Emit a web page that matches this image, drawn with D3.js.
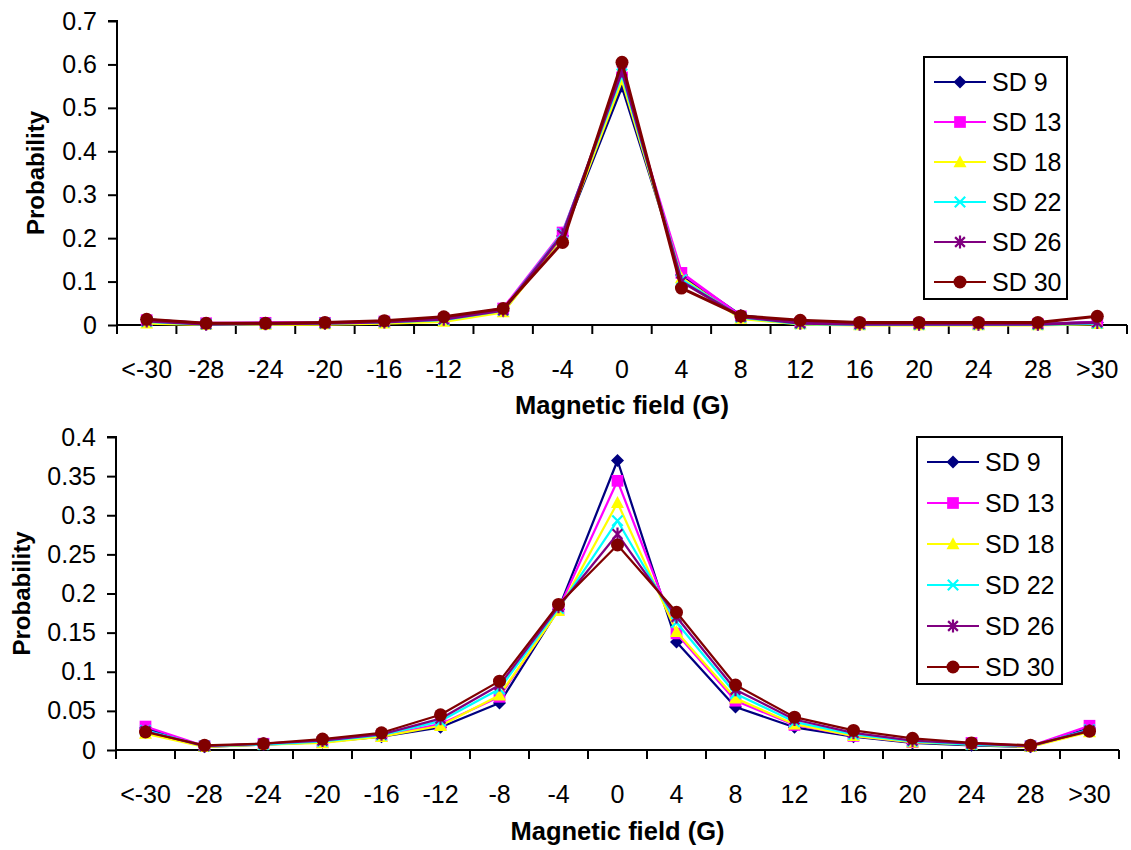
<!DOCTYPE html>
<html>
<head>
<meta charset="utf-8">
<script src="https://cdn.jsdelivr.net/npm/d3@7"></script>
<style>
  html, body { margin: 0; padding: 0; background: #fff; }
  svg { display: block; font-family: "Liberation Sans", Arial, sans-serif; }
</style>
</head>
<body>
<svg id="chart" width="1131" height="850"></svg>
<script>
// Field bins (G)
const categories = ["<-30","-28","-24","-20","-16","-12","-8","-4","0","4","8","12","16","20","24","28",">30"];
const seriesNames = ["SD 9","SD 13","SD 18","SD 22","SD 26","SD 30"];

// Upper panel: probability per bin
const topSD9  = [0.012,0.003,0.004,0.004,0.007,0.012,0.032,0.205,0.550,0.115,0.022,0.006,0.003,0.002,0.002,0.002,0.006];
const topSD13 = [0.011,0.004,0.005,0.005,0.008,0.014,0.038,0.213,0.570,0.120,0.020,0.005,0.002,0.002,0.002,0.002,0.006];
const topSD18 = [0.004,0.001,0.001,0.002,0.004,0.008,0.030,0.205,0.565,0.108,0.015,0.002,0.000,0.000,0.000,0.000,0.003];
const topSD22 = [0.008,0.002,0.003,0.004,0.007,0.012,0.034,0.210,0.578,0.104,0.018,0.003,0.001,0.001,0.001,0.001,0.004];
const topSD26 = [0.009,0.002,0.003,0.004,0.007,0.013,0.034,0.208,0.585,0.100,0.019,0.004,0.002,0.002,0.002,0.002,0.006];
const topSD30 = [0.013,0.004,0.004,0.006,0.010,0.019,0.038,0.190,0.605,0.085,0.021,0.011,0.006,0.006,0.006,0.006,0.020];

// Lower panel: probability per bin
const botSD9  = [0.028,0.004,0.007,0.010,0.017,0.029,0.060,0.180,0.370,0.138,0.055,0.029,0.017,0.009,0.006,0.004,0.028];
const botSD13 = [0.030,0.005,0.008,0.010,0.018,0.033,0.068,0.180,0.344,0.149,0.063,0.032,0.018,0.010,0.009,0.005,0.031];
const botSD18 = [0.021,0.004,0.007,0.009,0.017,0.031,0.070,0.178,0.316,0.151,0.066,0.033,0.018,0.010,0.007,0.004,0.023];
const botSD22 = [0.025,0.005,0.007,0.011,0.019,0.037,0.078,0.181,0.293,0.163,0.072,0.036,0.020,0.011,0.007,0.005,0.026];
const botSD26 = [0.024,0.005,0.008,0.012,0.020,0.040,0.083,0.183,0.276,0.170,0.077,0.039,0.022,0.012,0.008,0.005,0.025];
const botSD30 = [0.023,0.006,0.008,0.014,0.022,0.045,0.088,0.186,0.262,0.176,0.083,0.042,0.025,0.015,0.009,0.006,0.024];

// Y tick labels
const topTicks = [0, 0.1, 0.2, 0.3, 0.4, 0.5, 0.6, 0.7];
const topTickLabels = ["0","0.1","0.2","0.3","0.4","0.5","0.6","0.7"];
const botTicks = [0, 0.05, 0.1, 0.15, 0.2, 0.25, 0.3, 0.35, 0.4];
const botTickLabels = ["0","0.05","0.1","0.15","0.2","0.25","0.3","0.35","0.4"];

const xTitle = "Magnetic field (G)";
const yTitle = "Probability";

// Series styling: colour and marker kind
const styles = [
  { color: "#000080", marker: "diamond" },
  { color: "#FF00FF", marker: "square" },
  { color: "#FFFF00", marker: "triangle" },
  { color: "#00FFFF", marker: "x" },
  { color: "#800080", marker: "star" },
  { color: "#800000", marker: "circle" }
];

const svg = d3.select("#chart");
const FONT = 25;

function drawMarker(g, kind, color, cx, cy, s) {
  if (kind === "diamond") {
    g.append("path").attr("d", `M${cx},${cy - s}L${cx + s},${cy}L${cx},${cy + s}L${cx - s},${cy}Z`).attr("fill", color);
  } else if (kind === "square") {
    g.append("rect").attr("x", cx - s * 0.9).attr("y", cy - s * 0.9).attr("width", s * 1.8).attr("height", s * 1.8).attr("fill", color);
  } else if (kind === "triangle") {
    g.append("path").attr("d", `M${cx},${cy - s * 1.05}L${cx + s},${cy + s * 0.8}L${cx - s},${cy + s * 0.8}Z`).attr("fill", color);
  } else if (kind === "x") {
    const a = s * 0.8;
    g.append("path").attr("d", `M${cx - a},${cy - a}L${cx + a},${cy + a}M${cx + a},${cy - a}L${cx - a},${cy + a}`)
      .attr("stroke", color).attr("stroke-width", 2.2).attr("fill", "none");
  } else if (kind === "star") {
    const a = s * 0.75;
    g.append("path").attr("d", `M${cx - a},${cy - a}L${cx + a},${cy + a}M${cx + a},${cy - a}L${cx - a},${cy + a}M${cx},${cy - s}L${cx},${cy + s}`)
      .attr("stroke", color).attr("stroke-width", 2.2).attr("fill", "none");
  } else {
    g.append("circle").attr("cx", cx).attr("cy", cy).attr("r", s).attr("fill", color);
  }
}

function panel(cfg) {
  const g = svg.append("g");
  const x = d3.scaleBand().domain(categories).range([cfg.left, cfg.right]).padding(0);
  const y = d3.scaleLinear().domain([0, cfg.yMax]).range([cfg.bottom, cfg.top]);

  // Y axis with outward ticks
  const yAxis = d3.axisLeft(y).tickValues(cfg.ticks)
    .tickFormat((d, i) => cfg.tickLabels[i]).tickSize(9).tickPadding(11);
  const ya = g.append("g").attr("transform", `translate(${cfg.left},0)`).call(yAxis);
  ya.select(".domain").attr("stroke", "#000").attr("stroke-width", 2).attr("d", `M-9,${cfg.top}H0V${cfg.bottom + 9}`);
  ya.selectAll(".tick line").attr("stroke", "#000").attr("stroke-width", 2);
  ya.selectAll(".tick text").attr("font-size", FONT).attr("fill", "#000").attr("font-family", "Liberation Sans, Arial, sans-serif");

  // X axis: labels at bin centres, tick marks at bin boundaries
  const xAxis = d3.axisBottom(x).tickSize(0).tickPadding(0);
  const xa = g.append("g").attr("transform", `translate(0,${cfg.bottom})`).call(xAxis);
  xa.select(".domain").attr("stroke", "#000").attr("stroke-width", 2).attr("d", `M${cfg.left},0H${cfg.right}`);
  xa.selectAll(".tick text").attr("font-size", FONT).attr("fill", "#000")
    .attr("font-family", "Liberation Sans, Arial, sans-serif").attr("dy", null).attr("y", cfg.labelOffset);
  const bounds = categories.map(c => x(c)).concat([x(categories[categories.length - 1]) + x.bandwidth()]);
  xa.selectAll(".bound").data(bounds).enter().append("line")
    .attr("x1", d => d).attr("x2", d => d).attr("y1", 0).attr("y2", 9)
    .attr("stroke", "#000").attr("stroke-width", 2);

  // Axis titles
  g.append("text").attr("x", (cfg.left + cfg.right) / 2).attr("y", cfg.xTitleY)
    .attr("text-anchor", "middle").attr("font-size", 25.5).attr("font-weight", "bold").text(xTitle);
  g.append("text").attr("transform", `translate(${cfg.yTitleX},${(cfg.top + cfg.bottom) / 2}) rotate(-90)`)
    .attr("text-anchor", "middle").attr("font-size", 24).attr("font-weight", "bold").text(yTitle);

  // Series lines and markers
  const line = d3.line().x((d, i) => x(categories[i]) + x.bandwidth() / 2).y(d => y(d));
  cfg.series.forEach((vals, si) => {
    const st = styles[si];
    const sg = g.append("g");
    sg.append("path").datum(vals).attr("d", line).attr("fill", "none")
      .attr("stroke", st.color).attr("stroke-width", cfg.lineWidth).attr("stroke-linejoin", "round");
    vals.forEach((v, i) => {
      drawMarker(sg, st.marker, st.color, x(categories[i]) + x.bandwidth() / 2, y(v), cfg.markerSize);
    });
  });

  // Legend
  const lg = g.append("g");
  lg.append("rect").attr("x", cfg.legend.x).attr("y", cfg.legend.y)
    .attr("width", cfg.legend.w).attr("height", cfg.legend.h)
    .attr("fill", "#fff").attr("stroke", "#000").attr("stroke-width", 2);
  seriesNames.forEach((name, si) => {
    const st = styles[si];
    const ly = cfg.legend.y + cfg.legend.first + si * cfg.legend.step;
    const lx = cfg.legend.x + cfg.legend.lineX;
    lg.append("line").attr("x1", lx).attr("x2", lx + 52).attr("y1", ly).attr("y2", ly)
      .attr("stroke", st.color).attr("stroke-width", 2);
    drawMarker(lg, st.marker, st.color, lx + 26, ly, 6.5);
    lg.append("text").attr("x", lx + 58).attr("y", ly).attr("dy", "0.35em")
      .attr("font-size", FONT).attr("fill", "#000").text(name);
  });
}

panel({
  left: 117, right: 1127, top: 21, bottom: 325, yMax: 0.7,
  ticks: topTicks, tickLabels: topTickLabels,
  labelOffset: 53, xTitleY: 414, yTitleX: 44,
  series: [topSD9, topSD13, topSD18, topSD22, topSD26, topSD30],
  lineWidth: 3, markerSize: 6.5,
  legend: { x: 924, y: 57, w: 143, h: 242, first: 25, step: 40, lineX: 10 }
});

panel({
  left: 116, right: 1119, top: 437, bottom: 750, yMax: 0.4,
  ticks: botTicks, tickLabels: botTickLabels,
  labelOffset: 53, xTitleY: 840, yTitleX: 30,
  series: [botSD9, botSD13, botSD18, botSD22, botSD26, botSD30],
  lineWidth: 2.25, markerSize: 6.5,
  legend: { x: 917, y: 437, w: 145, h: 247, first: 25, step: 41, lineX: 10 }
});
</script>
</body>
</html>
